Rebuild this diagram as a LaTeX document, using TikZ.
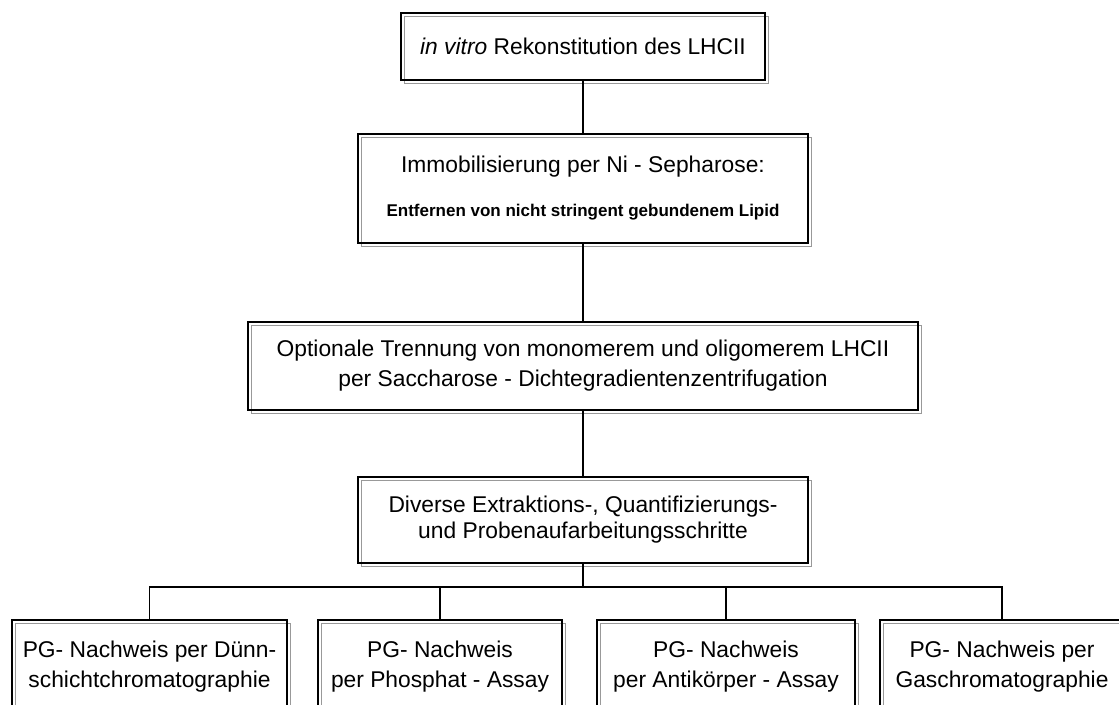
\documentclass[tikz,border=0pt]{standalone}
\usepackage{fontspec}
\setmainfont{Liberation Sans}
\usetikzlibrary{shadows}
\definecolor{framegrey}{HTML}{999999}
\tikzset{
  pbox/.style={rectangle, draw=black, line width=1pt, inner sep=0pt, align=center,
               font=\fontsize{11.4}{15}\selectfont,
               general shadow={draw=framegrey, line width=0.75pt,
                               shadow xshift=1.75pt, shadow yshift=-1.75pt}},
  plink/.style={line width=0.75pt, draw=black}
}

\begin{document}
\begin{tikzpicture}[x=0.5pt, y=-0.5pt]
  \useasboundingbox (0,0) rectangle (1119,705);
  \clip (0,0) rectangle (1119,705);
  \fill[white] (0,0) rectangle (1119,705);
  \node[pbox, minimum width=182pt, minimum height=33.5pt] (b1) at ( 583.0,  46.5)
    {\textit{in vitro} Rekonstitution des LHCII};
  \node[pbox, minimum width=225pt, minimum height=54.5pt] (b2) at ( 583.0, 188.5)
    {Immobilisierung per Ni - Sepharose:\\[7pt]{\bfseries\fontsize{8.5}{10}\selectfont Entfernen von nicht stringent gebundenem Lipid}};
  \node[pbox, minimum width=335pt, minimum height=44pt] (b3) at ( 583.0, 366.0)
    {Optionale Trennung von monomerem und oligomerem LHCII\\per Saccharose - Dichtegradientenzentrifugation};
  \node[pbox, minimum width=225pt, minimum height=43pt] (b4) at ( 583.0, 520.0)
    {Diverse Extraktions-, Quantifizierungs-\\[-2pt]und Probenaufarbeitungsschritte};
  \node[pbox, minimum width=137.5pt, minimum height=47pt] (b5) at ( 149.5, 667.0)
    {PG- Nachweis per D\"unn-\\schichtchromatographie};
  \node[pbox, minimum width=122pt, minimum height=47pt] (b6) at ( 440.0, 667.0)
    {PG- Nachweis\\per Phosphat - Assay};
  \node[pbox, minimum width=129pt, minimum height=47pt] (b7) at ( 726.0, 667.0)
    {PG- Nachweis\\per Antik\"orper - Assay};
  \node[pbox, minimum width=122pt, minimum height=47pt] (b8) at (1002.0, 667.0)
    {PG- Nachweis per\\Gaschromatographie};
  \coordinate (bus) at (583, 587);
  \draw[plink] (b1) -- (b2);
  \draw[plink] (b2) -- (b3);
  \draw[plink] (b3) -- (b4);
  \draw[plink] (b4) -- (bus);
  \draw[plink] (b5.north) |- (bus) -| (b8.north);
  \draw[plink] (b6.north) |- (bus);
  \draw[plink] (b7.north) |- (bus);
\end{tikzpicture}
\end{document}
